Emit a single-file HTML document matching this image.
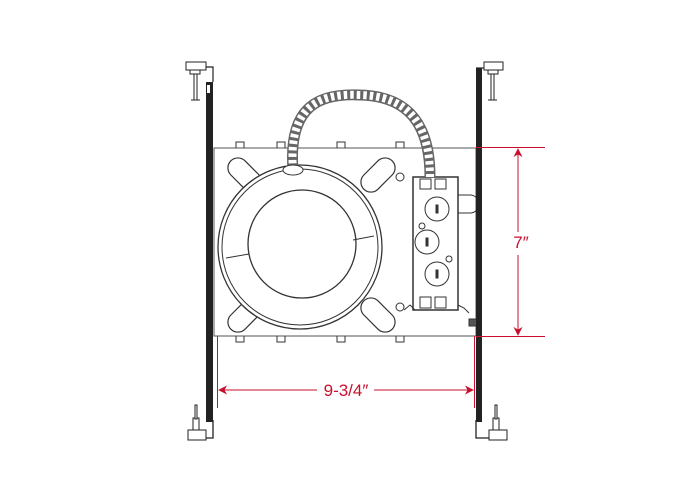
<!DOCTYPE html>
<html><head><style>html,body{margin:0;padding:0;background:#fff}svg{display:block}</style></head>
<body>
<svg width="686" height="490" viewBox="0 0 686 490" xmlns="http://www.w3.org/2000/svg" font-family="Liberation Sans, sans-serif">
<defs>
<marker id="ar" viewBox="0 0 10 10" refX="9" refY="5" markerWidth="9" markerHeight="9" orient="auto-start-reverse"><path d="M0,0 L10,5 L0,10 L3,5 Z" fill="#c8102e"/></marker>
</defs>
<g stroke="#333" fill="none" stroke-width="1">
<rect x="214" y="148" width="262" height="188" stroke="#555"/>
<path d="M236,148v-6h8v6 M277,148v-6h8v6 M337,148v-6h8v6 M396,148v-6h8v6"/>
<path d="M236,336v6h8v-6 M277,336v6h8v-6 M337,336v6h8v-6 M396,336v6h8v-6"/>
<g stroke-width="1.2">
<rect x="225" y="165" width="40" height="20" rx="10" transform="rotate(45 245 175)"/>
<rect x="358" y="165" width="40" height="20" rx="10" transform="rotate(-45 378 175)"/>
<rect x="225" y="305" width="40" height="20" rx="10" transform="rotate(-45 245 315)"/>
<rect x="358" y="305" width="40" height="20" rx="10" transform="rotate(45 378 315)"/>
</g>
<circle cx="300" cy="247" r="82" fill="#fff" stroke-width="1.3"/>
<circle cx="300" cy="247" r="78" stroke-width="1"/>
<circle cx="302" cy="244" r="54" stroke-width="1.3"/>
<path d="M249,254 L226,258 M353,240 L374,236"/>
<circle cx="400" cy="177" r="4"/>
<circle cx="400" cy="307" r="4"/>
<rect x="413" y="177" width="45" height="133" fill="#fff" stroke-width="1.5"/>
<rect x="420" y="179" width="11" height="10"/><rect x="435" y="179" width="11" height="10"/>
<rect x="420" y="297" width="11" height="11"/><rect x="435" y="297" width="11" height="11"/>
<circle cx="437" cy="209" r="12"/><rect x="436" y="205" width="2" height="8" fill="#333"/>
<circle cx="427" cy="242" r="12"/><rect x="426" y="238" width="2" height="8" fill="#333"/>
<circle cx="437" cy="274" r="12"/><rect x="436" y="270" width="2" height="8" fill="#333"/>
<circle cx="422" cy="226" r="3"/><circle cx="449" cy="259" r="3"/>
<path d="M458,195 h12 a6,6 0 0 1 0,18 h-12"/>
<path d="M404,310 l6,-5 l5,5 M458,305 l6,3 l5,5"/>
<rect x="469" y="319" width="8" height="7" fill="#555"/>
<path d="M293,170 C288,105 320,93 360,95 C400,96 430,115 430,177" stroke="#666" stroke-width="11"/>
<path d="M293,170 C288,105 320,93 360,95 C400,96 430,115 430,177" stroke="#fff" stroke-width="8" stroke-dasharray="3.5 3"/>
<ellipse cx="293" cy="170" rx="10" ry="5" fill="#fff"/>
</g>
<rect x="206" y="82" width="7" height="340" fill="#222"/>
<rect x="207" y="85" width="3" height="8" fill="#fff"/>
<path d="M200,67 H213 V82" stroke="#222" fill="none" stroke-width="1.2"/>
<rect x="186" y="62" width="20" height="8" fill="#fff" stroke="#222"/>
<rect x="190" y="70" width="10" height="4" fill="#fff" stroke="#222"/>
<rect x="194" y="74" width="3" height="26" fill="#fff" stroke="#222"/>
<path d="M191,100 h9" stroke="#222"/>
<path d="M213,420 V438 H188" stroke="#222" fill="none" stroke-width="1.3"/>
<rect x="188" y="430" width="18" height="10" fill="#fff" stroke="#222"/>
<rect x="193" y="418" width="6" height="12" fill="#fff" stroke="#222"/>
<rect x="195" y="405" width="2" height="14" fill="#fff" stroke="#222"/>
<rect x="476" y="68" width="6" height="354" fill="#222"/>
<path d="M476,68 H490" stroke="#222" stroke-width="1.2"/>
<rect x="484" y="62" width="19" height="8" fill="#fff" stroke="#222"/>
<rect x="488" y="70" width="10" height="4" fill="#fff" stroke="#222"/>
<rect x="491" y="74" width="3" height="26" fill="#fff" stroke="#222"/>
<path d="M488,100 h9" stroke="#222"/>
<path d="M476,420 V438 H500" stroke="#222" fill="none" stroke-width="1.3"/>
<rect x="489" y="430" width="18" height="10" fill="#fff" stroke="#222"/>
<rect x="493" y="418" width="6" height="12" fill="#fff" stroke="#222"/>
<rect x="495" y="405" width="2" height="14" fill="#fff" stroke="#222"/>
<g stroke="#c8102e" stroke-width="1" fill="none">
<path d="M476,147.5 H545 M476,336.5 H545"/>
<path d="M518,232 V149" marker-end="url(#ar)"/>
<path d="M518,255 V335" marker-end="url(#ar)"/>
<path d="M217.5,336 V408 M474.5,336 V408"/>
<path d="M317,390 H219" marker-end="url(#ar)"/>
<path d="M374,390 H473" marker-end="url(#ar)"/>
</g>
<text x="521" y="248" fill="#c8102e" font-size="17" text-anchor="middle" font-weight="300">7″</text>
<text x="346" y="396" fill="#c8102e" font-size="17" text-anchor="middle" font-weight="300">9-3/4″</text>
</svg>
</body></html>
